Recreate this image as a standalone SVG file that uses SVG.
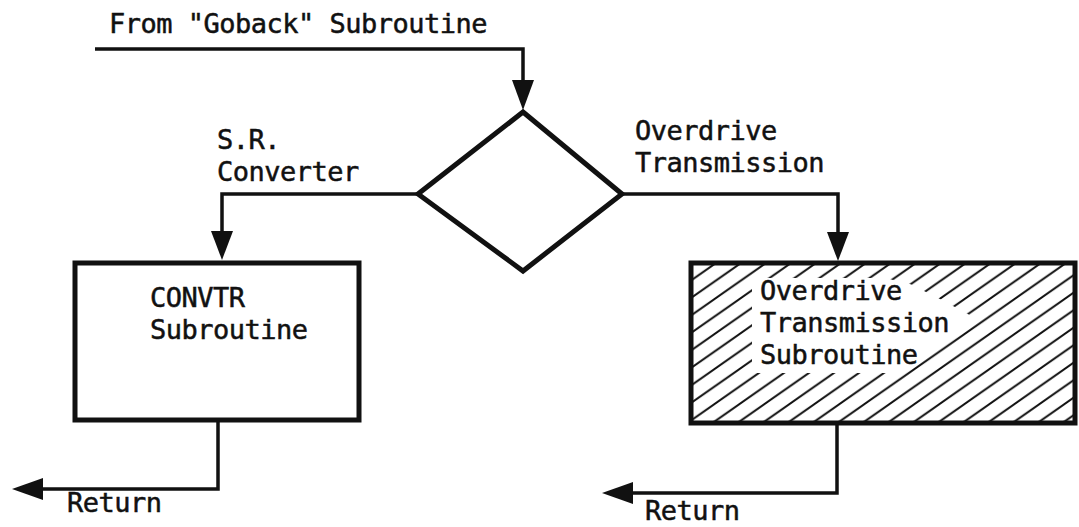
<svg xmlns="http://www.w3.org/2000/svg" width="1079" height="527" viewBox="0 0 1079 527">
  <style>
    .lbl { font-family: "DejaVu Sans Mono", "Liberation Mono", monospace; font-size: 27px; fill: #111; stroke: #111; stroke-width: 0.5; letter-spacing: -0.5px; }
    .box { fill: #fff; stroke: #111; stroke-width: 5; stroke-linejoin: miter; }
    .wire { fill: none; stroke: #111; stroke-width: 3.5; stroke-linejoin: miter; }
    .head { fill: #111; }
  </style>
  <defs>
    <!-- rising diagonal hatching: 25px horizontal pitch, 17.5px vertical pitch -->
    <pattern id="hatch" patternUnits="userSpaceOnUse" x="691" y="263" width="25" height="17.5">
      <path d="M0,17.5 L25,0 M-5,3.5 L5,-3.5 M20,21 L30,14" stroke="#111" stroke-width="2" fill="none"/>
    </pattern>
  </defs>

  <!-- connectors -->
  <g id="connectors">
    <!-- entry from Goback -->
    <polyline class="wire" points="95,49 523,49 523,84"/>
    <polygon class="head" points="512,80 534,80 523,110"/>
    <!-- S.R. converter branch -->
    <polyline class="wire" points="418,194 222,194 222,234"/>
    <polygon class="head" points="211,231 233,231 222,260"/>
    <!-- overdrive transmission branch -->
    <polyline class="wire" points="622,194 838,194 838,236"/>
    <polygon class="head" points="827,232 849,232 838,261"/>
    <!-- returns -->
    <polyline class="wire" points="218,421 218,489 38,489"/>
    <polygon class="head" points="43,478 43,500 12,489"/>
    <polyline class="wire" points="837,423 837,493 628,493"/>
    <polygon class="head" points="633,482 633,504 602,493"/>
  </g>

  <!-- labels on the connectors -->
  <g id="connector-labels">
    <text class="lbl" x="109" y="33">From "Goback" Subroutine</text>
    <text class="lbl" x="217" y="149">S.R.</text>
    <text class="lbl" x="217" y="181">Converter</text>
    <text class="lbl" x="635" y="140">Overdrive</text>
    <text class="lbl" x="635" y="172">Transmission</text>
    <text class="lbl" x="67" y="512">Return</text>
    <text class="lbl" x="645" y="520">Return</text>
  </g>

  <!-- decision -->
  <g id="decision">
    <polygon class="box" points="523,112 622,194 523,271 418,194"/>
  </g>

  <!-- CONVTR subroutine -->
  <g id="convtr">
    <rect class="box" x="75" y="263" width="284" height="157"/>
    <text class="lbl" x="150" y="307">CONVTR</text>
    <text class="lbl" x="150" y="339">Subroutine</text>
  </g>

  <!-- overdrive transmission subroutine (hatched) -->
  <g id="overdrive">
    <rect x="691" y="263" width="384" height="160" fill="url(#hatch)"/>
    <polygon fill="#fff" points="752,278 885,278 910,284 942,300 975,318 958,336 925,358 905,373 752,373"/>
    <rect x="691" y="263" width="384" height="160" fill="none" stroke="#111" stroke-width="5"/>
    <text class="lbl" x="760" y="300">Overdrive</text>
    <text class="lbl" x="760" y="332">Transmission</text>
    <text class="lbl" x="760" y="364">Subroutine</text>
  </g>
</svg>
